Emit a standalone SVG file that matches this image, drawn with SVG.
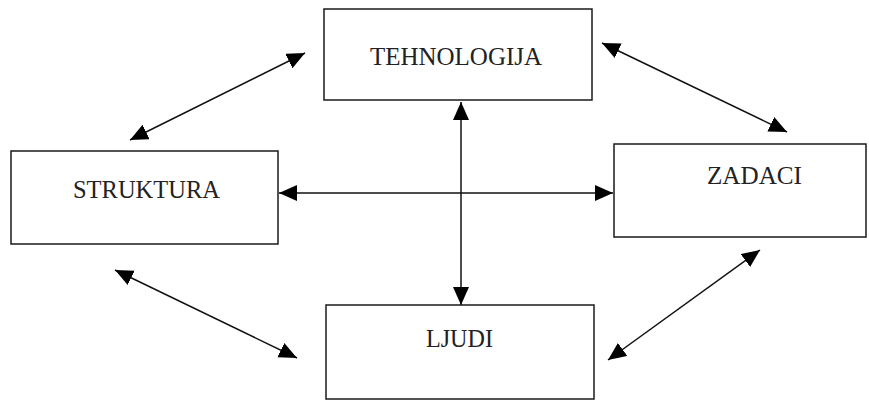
<svg xmlns="http://www.w3.org/2000/svg" width="869" height="403" viewBox="0 0 869 403">
  <style>
    .box { fill: #ffffff; stroke: #1a1a1a; stroke-width: 1.5; }
    .label { font-family: "Liberation Serif", "Times New Roman", serif; font-size: 25px; fill: #222222; }
    .link { stroke: #111111; stroke-width: 1.5; fill: none; marker-start: url(#head); marker-end: url(#head); }
  </style>
  <defs>
    <marker id="head" markerUnits="userSpaceOnUse" markerWidth="20" markerHeight="18" refX="18" refY="8" orient="auto-start-reverse">
      <path d="M0,0 L18,8 L0,16 Z" fill="#000000"/>
    </marker>
  </defs>
  <rect width="869" height="403" fill="#ffffff"/>

  <g id="connectors">
    <line class="link" x1="461" y1="102" x2="461" y2="305"/>
    <line class="link" x1="279" y1="193" x2="613" y2="193"/>
    <line class="link" x1="130" y1="140" x2="305" y2="53"/>
    <line class="link" x1="602" y1="43" x2="787" y2="132"/>
    <line class="link" x1="115" y1="270" x2="297" y2="358"/>
    <line class="link" x1="760" y1="250" x2="608" y2="360"/>
  </g>

  <g id="tehnologija">
    <rect class="box" x="324" y="9" width="268" height="91"/>
    <text class="label" x="370" y="65" textLength="172" lengthAdjust="spacingAndGlyphs">TEHNOLOGIJA</text>
  </g>
  <g id="struktura">
    <rect class="box" x="11" y="151" width="267" height="93"/>
    <text class="label" x="73" y="198" textLength="147" lengthAdjust="spacingAndGlyphs">STRUKTURA</text>
  </g>
  <g id="zadaci">
    <rect class="box" x="614" y="144" width="252" height="93"/>
    <text class="label" x="707" y="184" textLength="95" lengthAdjust="spacingAndGlyphs">ZADACI</text>
  </g>
  <g id="ljudi">
    <rect class="box" x="326" y="305" width="268" height="94"/>
    <text class="label" x="426" y="347" textLength="67" lengthAdjust="spacingAndGlyphs">LJUDI</text>
  </g>
</svg>
